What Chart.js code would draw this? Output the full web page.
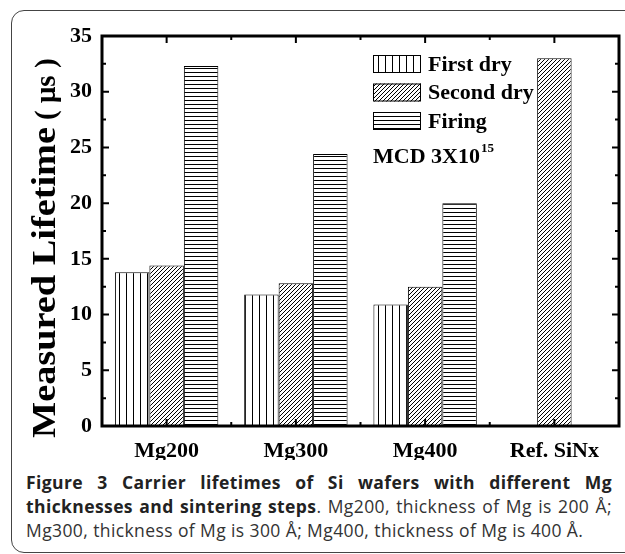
<!DOCTYPE html>
<html lang="en">
<head>
<meta charset="UTF-8">
<title>Carrier lifetimes</title>
<script src="https://cdn.jsdelivr.net/npm/chart.js"></script>
<style>
    body {
        margin: 0;
        background: #fff;
        overflow: hidden;
        width: 625px;
        height: 554px;
        position: relative;
    }

    .frame {
        position: absolute;
        left: 11px;
        top: 10px;
        width: 700px;
        height: 541px;
        border: 1px solid #444;
        border-radius: 13px;
    }

    #chart {
        position: absolute;
        left: 0;
        top: 0;
    }

    .caption {
        position: absolute;
        left: 26px;
        top: 470px;
        width: 586px;
        font-family: 'Open Sans';
        font-size: 17.5px;
        letter-spacing: 0.4px;
        line-height: 24px;
        color: #333;
        white-space: nowrap;
    }

    .caption .j {
        text-align: justify;
        text-align-last: justify;
    }

    .caption b {
        color: #222;
    }
</style>
</head>
<body>

<div class="frame"></div>
<canvas id="chart" width="625" height="460"></canvas>

<div class="caption">
    <div class="j"><b>Figure 3 Carrier lifetimes of Si wafers with different Mg</b></div>
    <div class="j"><b>thicknesses and sintering steps</b>. Mg200, thickness of Mg is 200 Å;</div>
    <div>Mg300, thickness of Mg is 300 Å; Mg400, thickness of Mg is 400 Å.</div>
</div>

<script>
    const categories = ['Mg200', 'Mg300', 'Mg400', 'Ref. SiNx'];
    const seriesNames = ['First dry', 'Second dry', 'Firing'];
    const firstDry = [13.8, 11.8, 10.9, null];
    const secondDry = [14.4, 12.8, 12.5, 33.0];
    const firing = [32.3, 24.4, 20.0, null];
    const yTicks = [0, 5, 10, 15, 20, 25, 30, 35];
    const yMinorTicks = [2.5, 7.5, 12.5, 17.5, 22.5, 27.5, 32.5];
    const yTitle = 'Measured Lifetime';
    const yUnit = '( μs )';
    const note = 'MCD 3X10';
    const noteSup = '15';

    const serif = '"Liberation Serif", "Times New Roman", serif';

    // hatch fills
    function makePattern(kind) {
        const c = document.createElement('canvas');
        const g = c.getContext('2d');
        if (kind == 'vertical') {
            c.width = 7; c.height = 7;
            g.fillStyle = '#fff'; g.fillRect(0, 0, 7, 7);
            g.fillStyle = '#000'; g.fillRect(0, 0, 1, 7);
        } else if (kind == 'horizontal') {
            c.width = 4; c.height = 4;
            g.fillStyle = '#fff'; g.fillRect(0, 0, 4, 4);
            g.fillStyle = '#000'; g.fillRect(0, 0, 4, 1);
        } else {
            c.width = 4; c.height = 4;
            g.fillStyle = '#fff'; g.fillRect(0, 0, 4, 4);
            g.fillStyle = '#000';
            for (let i = 0; i < 4; i++) g.fillRect(3 - i, i, 1, 1);
        }
        return g.createPattern(c, 'repeat');
    }

    const fills = [makePattern('vertical'), makePattern('diagonal'), makePattern('horizontal')];

    // frame, inward ticks, y title, legend
    const decor = {
        id: 'decor',
        afterDatasetsDraw(chart) {
            const ctx = chart.ctx;
            const a = chart.chartArea;
            const x = chart.scales.x;
            const y = chart.scales.y;
            const half = (x.getPixelForValue(1) - x.getPixelForValue(0)) / 2;

            ctx.save();
            ctx.strokeStyle = '#000';
            ctx.lineWidth = 2;
            ctx.beginPath();
            categories.forEach((c, i) => {
                const px = x.getPixelForValue(i);
                ctx.moveTo(px, a.bottom); ctx.lineTo(px, a.bottom - 7);
                ctx.moveTo(px, a.top); ctx.lineTo(px, a.top + 7);
                if (i > 0) {
                    const bx = px - half;
                    ctx.moveTo(bx, a.bottom); ctx.lineTo(bx, a.bottom - 4);
                    ctx.moveTo(bx, a.top); ctx.lineTo(bx, a.top + 4);
                }
            });
            yTicks.forEach(v => {
                const py = y.getPixelForValue(v);
                ctx.moveTo(a.left, py); ctx.lineTo(a.left + 7, py);
                ctx.moveTo(a.right, py); ctx.lineTo(a.right - 7, py);
            });
            yMinorTicks.forEach(v => {
                const py = y.getPixelForValue(v);
                ctx.moveTo(a.left, py); ctx.lineTo(a.left + 4, py);
                ctx.moveTo(a.right, py); ctx.lineTo(a.right - 4, py);
            });
            ctx.stroke();

            ctx.lineWidth = 3;
            ctx.strokeRect(a.left, a.top, a.right - a.left, a.bottom - a.top);

            // y title
            ctx.fillStyle = '#000';
            ctx.translate(55, 438);
            ctx.rotate(-Math.PI / 2);
            ctx.font = 'bold 34px ' + serif;
            ctx.textBaseline = 'alphabetic';
            ctx.textAlign = 'left';
            const w = ctx.measureText(yTitle).width;
            ctx.save();
            ctx.scale(311 / w, 1);
            ctx.fillText(yTitle, 0, 0);
            ctx.restore();
            ctx.font = 'bold 29px ' + serif;
            ctx.fillText(yUnit, 318, 0);
            ctx.setTransform(1, 0, 0, 1, 0, 0);

            // legend
            ctx.font = 'bold 22px ' + serif;
            ctx.textBaseline = 'middle';
            ctx.lineWidth = 1;
            chart.data.datasets.forEach((ds, i) => {
                const cy = 64 + i * 28.5;
                ctx.fillStyle = ds.backgroundColor;
                ctx.fillRect(373, cy - 9, 48, 18);
                ctx.strokeRect(373.5, cy - 8.5, 47, 17);
                ctx.fillStyle = '#000';
                ctx.fillText(ds.label, 428, cy + 1);
            });
            ctx.textBaseline = 'alphabetic';
            ctx.fillText(note, 373, 163);
            const nw = ctx.measureText(note).width;
            ctx.font = 'bold 13px ' + serif;
            ctx.fillText(noteSup, 373 + nw + 1, 152);
            ctx.restore();
        }
    };

    const tickFont = { family: serif, size: 22, weight: 'bold' };

    new Chart(document.getElementById('chart'), {
        type: 'bar',
        data: {
            labels: categories,
            datasets: [firstDry, secondDry, firing].map((d, i) => ({
                label: seriesNames[i],
                data: d,
                backgroundColor: fills[i],
                borderColor: '#000',
                borderWidth: 1,
                categoryPercentage: 0.8,
                barPercentage: 1.0
            }))
        },
        options: {
            responsive: false,
            animation: false,
            devicePixelRatio: 1,
            layout: { padding: { left: 0, right: 6, top: 36, bottom: 0 } },
            plugins: {
                legend: { display: false },
                tooltip: { enabled: false }
            },
            scales: {
                x: {
                    grid: { display: false, drawTicks: false },
                    border: { display: false },
                    ticks: { color: '#000', font: tickFont, padding: 12, maxRotation: 0, autoSkip: false },
                    afterFit: s => { s.height = 34; }
                },
                y: {
                    min: 0,
                    max: 35,
                    afterBuildTicks: s => { s.ticks = yTicks.map(v => ({ value: v })); },
                    grid: { display: false, drawTicks: false },
                    border: { display: false },
                    ticks: { color: '#000', font: tickFont, padding: 10 },
                    afterFit: s => { s.width = 102; }
                }
            }
        },
        plugins: [decor]
    });
</script>
</body>
</html>
